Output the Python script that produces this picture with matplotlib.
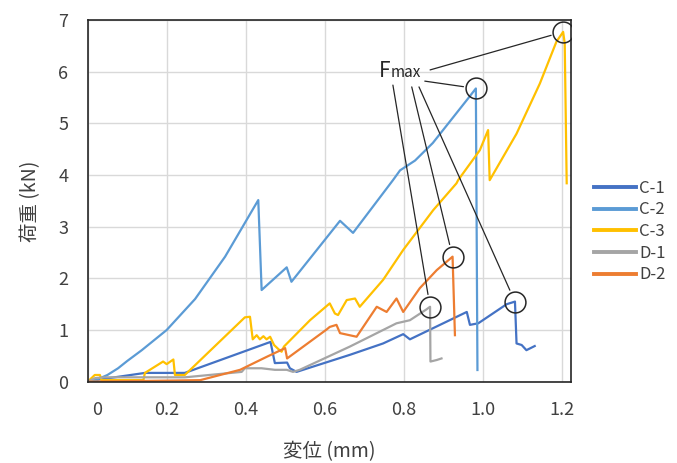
import matplotlib

matplotlib.use("Agg")
import matplotlib.pyplot as plt
import matplotlib.transforms as mtransforms
import numpy as np

plt.rcParams["font.family"] = ["Noto Sans CJK JP", "DejaVu Sans"]

# load-displacement curves
c1_x = [0.0, 0.019, 0.145, 0.246, 0.463, 0.474, 0.505, 0.512, 0.529, 0.664, 0.748, 0.799,
        0.816, 0.96, 0.968, 0.989, 1.061, 1.082, 1.086, 1.099, 1.111, 1.132]
c1_y = [0.0, 0.03, 0.17, 0.17, 0.77, 0.36, 0.37, 0.26, 0.19, 0.52, 0.74, 0.92,
        0.82, 1.35, 1.10, 1.13, 1.50, 1.55, 0.74, 0.71, 0.61, 0.69]

c2_x = [0.0, 0.02, 0.05, 0.077, 0.1, 0.137, 0.2, 0.272, 0.348, 0.432, 0.4405, 0.504, 0.516,
        0.639, 0.672, 0.773, 0.791, 0.829, 0.874, 0.96, 0.983, 0.987]
c2_y = [0.0, 0.03, 0.13, 0.26, 0.40, 0.61, 1.0, 1.6, 2.42, 3.515, 1.774, 2.213, 1.934,
        3.114, 2.88, 3.9, 4.09, 4.28, 4.62, 5.45, 5.675, 0.226]

c3_x = [0.0, 0.018, 0.031, 0.035, 0.141, 0.145, 0.191, 0.2, 0.217, 0.221, 0.246, 0.272,
        0.398, 0.411, 0.418, 0.428, 0.436, 0.445, 0.453, 0.462, 0.472, 0.483, 0.491,
        0.497, 0.563, 0.613, 0.626, 0.634, 0.656, 0.677, 0.689, 0.748, 0.799, 0.875,
        0.934, 0.938, 0.993, 1.014, 1.018, 1.086, 1.145, 1.187, 1.204, 1.208, 1.213]
c3_y = [0.0, 0.13, 0.13, 0.03, 0.03, 0.17, 0.39, 0.34, 0.43, 0.13, 0.13, 0.32,
        1.245, 1.257, 0.82, 0.90, 0.82, 0.88, 0.82, 0.87, 0.71, 0.63, 0.58,
        0.68, 1.19, 1.516, 1.32, 1.29, 1.58, 1.61, 1.45, 1.97, 2.55, 3.32,
        3.84, 3.90, 4.48, 4.87, 3.90, 4.80, 5.77, 6.58, 6.77, 6.55, 3.84]

d1_x = [0.0, 0.019, 0.044, 0.246, 0.263, 0.39, 0.398, 0.44, 0.474, 0.504, 0.52, 0.537,
        0.664, 0.782, 0.816, 0.858, 0.867, 0.868, 0.884, 0.896]
d1_y = [0.0, 0.07, 0.085, 0.085, 0.097, 0.19, 0.26, 0.26, 0.23, 0.23, 0.19, 0.23,
        0.68, 1.13, 1.19, 1.40, 1.45, 0.39, 0.42, 0.45]

d2_x = [0.0, 0.285, 0.386, 0.453, 0.5, 0.505, 0.605, 0.613, 0.63, 0.639, 0.681, 0.732,
        0.757, 0.782, 0.799, 0.841, 0.884, 0.924, 0.93]
d2_y = [0.0, 0.03, 0.23, 0.48, 0.65, 0.45, 1.01, 1.06, 1.10, 0.94, 0.87, 1.45,
        1.35, 1.61, 1.35, 1.81, 2.16, 2.42, 0.90]

labels = ["C-1", "C-2", "C-3", "D-1", "D-2"]
colors = ["#4472C4", "#5B9BD5", "#FFC000", "#A5A5A5", "#ED7D31"]
series = [(c1_x, c1_y), (c2_x, c2_y), (c3_x, c3_y), (d1_x, d1_y), (d2_x, d2_y)]

x_ticks = [0, 0.2, 0.4, 0.6, 0.8, 1.0, 1.2]
x_tick_labels = ["0", "0.2", "0.4", "0.6", "0.8", "1.0", "1.2"]
y_ticks = [0, 1, 2, 3, 4, 5, 6, 7]

# where each Fmax leader starts (axes fraction), per series
leader_start = {"C-1": (0.686, 0.815), "C-2": (0.698, 0.831), "C-3": (0.709, 0.862),
                "D-1": (0.632, 0.820), "D-2": (0.671, 0.815)}

fig = plt.figure(figsize=(6.77, 4.63), dpi=100)
ax = fig.add_axes([0.1295, 0.1756, 0.7134, 0.7812])

lines = []
for (x, y), lab, col in zip(series, labels, colors):
    ln, = ax.plot(x, y, color=col, lw=1.6, label=lab, solid_joinstyle="round")
    lines.append(ln)

# circles + leaders at each peak
for (x, y), lab in zip(series, labels):
    i = int(np.argmax(y))
    ax.plot(x[i], y[i], "o", ms=15, mfc="none", mec="#262626", mew=1.1, zorder=5)
    ax.annotate("", xy=(x[i], y[i]), xytext=leader_start[lab], textcoords="axes fraction",
                arrowprops=dict(arrowstyle="-", color="#262626", lw=0.9, shrinkA=0, shrinkB=9))

ax.text(0.603, 0.843, "F", transform=ax.transAxes, fontsize=15, va="baseline", color="#262626")
ax.text(0.627, 0.843, "max", transform=ax.transAxes, fontsize=11, va="baseline", color="#262626")

ax.set_xlim(0, 1.223)
ax.set_ylim(0, 7)
ax.set_xticks(x_ticks)
ax.set_xticklabels(x_tick_labels)
ax.set_yticks(y_ticks)
ax.tick_params(length=0, labelsize=13, labelcolor="#404040", pad=14)
ax.grid(color="#D9D9D9", lw=1)
ax.set_axisbelow(True)
for sp in ax.spines.values():
    sp.set_color("#262626")
    sp.set_linewidth(1.2)

# Excel nudges the "0" label inward off the corner
first = ax.get_xticklabels()[0]
first.set_transform(first.get_transform()
                    + mtransforms.ScaledTranslation(9 / 100, 0, fig.dpi_scale_trans))

ax.set_xlabel("変位 (mm)", fontsize=14, color="#404040", labelpad=16)
ax.set_ylabel("荷重 (kN)", fontsize=14, color="#404040", labelpad=12)

leg = fig.legend(handles=lines, loc="upper left", bbox_to_anchor=(0.868, 0.626),
                 frameon=False, fontsize=12, handlelength=2.5, handletextpad=0.2,
                 labelspacing=0.28, borderaxespad=0)
for h in leg.legend_handles:
    h.set_linewidth(2.8)
for t in leg.get_texts():
    t.set_color("#404040")

fig.savefig("out.png", dpi=100)
